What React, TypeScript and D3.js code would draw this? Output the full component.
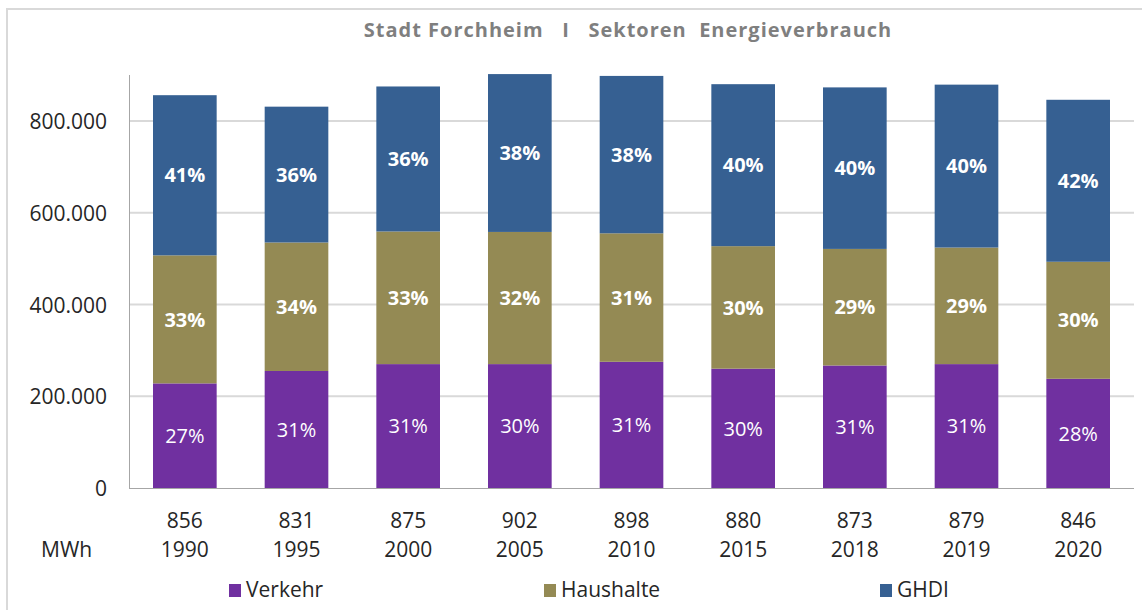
import React, { useEffect, useRef } from 'react';
import * as d3 from 'd3';

// values in MWh
const years = ['1990', '1995', '2000', '2005', '2010', '2015', '2018', '2019', '2020'];
const totals = ['856', '831', '875', '902', '898', '880', '873', '879', '846'];
const verkehr = [228000, 255000, 270000, 270000, 275000, 260000, 267000, 270000, 238000];
const haushalte = [279000, 280000, 289000, 288000, 280000, 267000, 254000, 254000, 255000];
const ghdi = [349000, 296000, 316000, 344000, 343000, 353000, 352000, 355000, 353000];
const verkehrPct = ['27%', '31%', '31%', '30%', '31%', '30%', '31%', '31%', '28%'];
const haushaltePct = ['33%', '34%', '33%', '32%', '31%', '30%', '29%', '29%', '30%'];
const ghdiPct = ['41%', '36%', '36%', '38%', '38%', '40%', '40%', '40%', '42%'];
const seriesNames = ['Verkehr', 'Haushalte', 'GHDI'];
const yTicks = [0, 200000, 400000, 600000, 800000];

const colors = ['#7030a0', '#948a54', '#366092'];
const FONT = '"Open Sans", sans-serif';

const App: React.FC = () => {
  const svgRef = useRef<SVGSVGElement>(null);

  useEffect(() => {
    if (!svgRef.current) return;
    const W = 1142;
    const H = 610;
    const margin = { top: 75, right: 8, bottom: 122, left: 129 };
    const width = W - margin.left - margin.right;
    const height = H - margin.top - margin.bottom;

    const root = d3.select(svgRef.current);
    root.selectAll('*').remove();
    root.attr('width', W).attr('height', H);

    // frame
    root
      .append('rect')
      .attr('x', 7)
      .attr('y', 9)
      .attr('width', W + 20)
      .attr('height', H + 20)
      .attr('fill', '#fff')
      .attr('stroke', '#d9d9d9')
      .attr('stroke-width', 2);

    root
      .append('text')
      .attr('x', 628)
      .attr('y', 37)
      .attr('text-anchor', 'middle')
      .attr('font-family', FONT)
      .attr('font-weight', 700)
      .attr('font-size', 20)
      .attr('letter-spacing', 1)
      .attr('fill', '#7f7f7f')
      .style('white-space', 'pre')
      .text('Stadt Forchheim   I   Sektoren  Energieverbrauch');

    const svg = root.append('g').attr('transform', `translate(${margin.left},${margin.top})`);

    const x = d3.scaleBand<string>().domain(years).range([0, width]).paddingInner(0.43).paddingOuter(0.215);
    const y = d3.scaleLinear().domain([0, 900000]).range([height, 0]);

    const locale = d3.formatLocale({ decimal: ',', thousands: '.', grouping: [3], currency: ['', '€'] });
    const fmt = locale.format(',d');

    // gridlines
    svg
      .selectAll('.grid')
      .data(yTicks.slice(1))
      .enter()
      .append('line')
      .attr('x1', 0)
      .attr('x2', width)
      .attr('y1', (d) => y(d))
      .attr('y2', (d) => y(d))
      .attr('stroke', '#d9d9d9')
      .attr('stroke-width', 2);

    // stacked bars
    const table = years.map((yr, i) => ({ year: yr, Verkehr: verkehr[i], Haushalte: haushalte[i], GHDI: ghdi[i] }));
    const stack = d3.stack<any>().keys(seriesNames)(table);
    const pcts = [verkehrPct, haushaltePct, ghdiPct];

    stack.forEach((layer, si) => {
      const g = svg.append('g');
      g.selectAll('rect')
        .data(layer)
        .enter()
        .append('rect')
        .attr('x', (d) => x(d.data.year)!)
        .attr('width', x.bandwidth())
        .attr('y', (d) => y(d[1]))
        .attr('height', (d) => y(d[0]) - y(d[1]))
        .attr('fill', colors[si]);

      g.selectAll('text')
        .data(layer)
        .enter()
        .append('text')
        .attr('x', (d) => x(d.data.year)! + x.bandwidth() / 2)
        .attr('y', (d) => (y(d[0]) + y(d[1])) / 2)
        .attr('dy', '0.36em')
        .attr('text-anchor', 'middle')
        .attr('font-family', FONT)
        .attr('font-size', 20)
        .attr('font-weight', si === 0 ? 400 : 700)
        .attr('fill', '#fff')
        .text((d, i) => pcts[si][i]);
    });

    // axes
    const yAxis = svg.append('g').call(d3.axisLeft(y).tickValues(yTicks).tickSize(0).tickPadding(22).tickFormat((d) => fmt(d as number)));
    yAxis.select('.domain').attr('stroke', '#a6a6a6').attr('d', `M0.5,0V${height}`);
    yAxis.selectAll('text').attr('font-family', FONT).attr('font-size', 21).attr('fill', '#262626').attr('dy', '0.36em');

    svg
      .append('line')
      .attr('x1', 0)
      .attr('x2', width)
      .attr('y1', height + 0.5)
      .attr('y2', height + 0.5)
      .attr('stroke', '#a6a6a6');

    // category labels: total + year
    const cats = svg.append('g').attr('font-family', FONT).attr('font-size', 21).attr('fill', '#262626').attr('text-anchor', 'middle');
    cats
      .selectAll('.tot')
      .data(years)
      .enter()
      .append('text')
      .attr('x', (d) => x(d)! + x.bandwidth() / 2)
      .attr('y', height + 40)
      .text((d, i) => totals[i]);
    cats
      .selectAll('.yr')
      .data(years)
      .enter()
      .append('text')
      .attr('x', (d) => x(d)! + x.bandwidth() / 2)
      .attr('y', height + 69)
      .text((d) => d);

    root
      .append('text')
      .attr('x', 41)
      .attr('y', margin.top + height + 69)
      .attr('font-family', FONT)
      .attr('font-size', 21)
      .attr('fill', '#262626')
      .text('MWh');

    // legend
    const legendX = [229, 544, 880];
    const legend = root.append('g');
    seriesNames.forEach((name, i) => {
      legend
        .append('rect')
        .attr('x', legendX[i])
        .attr('y', 584)
        .attr('width', 12)
        .attr('height', 13)
        .attr('fill', colors[i]);
      legend
        .append('text')
        .attr('x', legendX[i] + 17)
        .attr('y', 597)
        .attr('font-family', FONT)
        .attr('font-size', 21)
        .attr('fill', '#262626')
        .text(name);
    });
  }, []);

  return (
    <div style={{ position: 'absolute', left: 0, top: 0 }}>
      <svg ref={svgRef} style={{ display: 'block' }}></svg>
    </div>
  );
};

export default App;
